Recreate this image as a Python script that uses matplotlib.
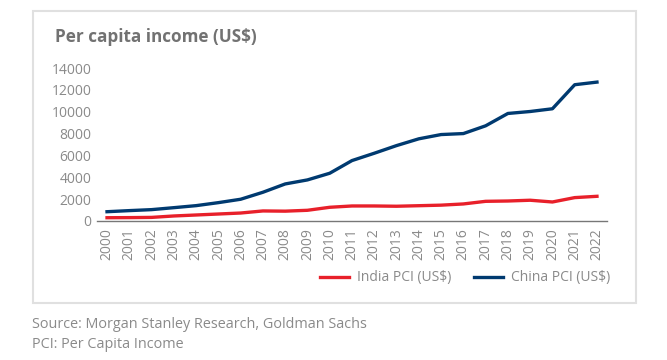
import numpy as np
import matplotlib.pyplot as plt
from matplotlib.patches import Rectangle

plt.rcParams['font.family'] = ['Open Sans', 'DejaVu Sans']

years = [str(y) for y in range(2000, 2023)]
india_pci = [300, 310, 330, 460, 550, 640, 730, 920, 900, 980, 1255, 1375,
             1375, 1350, 1400, 1450, 1560, 1800, 1830, 1900, 1740, 2140, 2260]
china_pci = [850, 950, 1040, 1220, 1405, 1680, 1990, 2630, 3390, 3760, 4370, 5530,
             6200, 6900, 7520, 7910, 8000, 8710, 9840, 10020, 10270, 12470, 12710]

text_grey = '#8a8a8a'
red = '#e8202a'
navy = '#003a70'

fig = plt.figure(figsize=(6.67, 3.6), dpi=100)

# outer frame
fig.patches.append(Rectangle((32.5/667, 1 - 303/360), (636-32.5)/667, (303-10.5)/360,
                             transform=fig.transFigure, fill=False,
                             edgecolor='#e0e0e0', linewidth=1.5))

ax = fig.add_axes([97/667, 1 - 221/360, 510/667, 153/360])
x = np.arange(len(years))
ax.plot(x, india_pci, color=red, linewidth=2.4, label='India PCI (US$)')
ax.plot(x, china_pci, color=navy, linewidth=2.4, label='China PCI (US$)')

ax.set_xlim(-0.45, len(years) - 0.55)
ax.set_ylim(0, 14000)
ax.set_yticks(range(0, 14001, 2000))
ax.set_xticks(x)
ax.set_xticklabels(years, rotation=90)
ax.tick_params(axis='both', length=0, labelsize=10, labelcolor=text_grey)
ax.tick_params(axis='y', pad=4)
ax.tick_params(axis='x', pad=5)
for s in ['top', 'right', 'left']:
    ax.spines[s].set_visible(False)
ax.spines['bottom'].set_color('#777777')
ax.spines['bottom'].set_linewidth(1)

fig.text(55/667, 1 - 37/360, 'Per capita income (US$)', fontsize=12.3, fontweight='bold',
         color='#727272', va='center')

fig.legend(loc='center', bbox_to_anchor=(465/667, 1 - 278/360), ncol=2, frameon=False,
           fontsize=10, labelcolor=text_grey, handlelength=2.1, handletextpad=0.6,
           columnspacing=1.6)

fig.text(32/667, 1 - 325/360, 'Source: Morgan Stanley Research, Goldman Sachs',
         fontsize=10.4, color=text_grey, va='center')
fig.text(32/667, 1 - 344/360, 'PCI: Per Capita Income',
         fontsize=10.4, color=text_grey, va='center')

plt.savefig('out.png', dpi=100)
